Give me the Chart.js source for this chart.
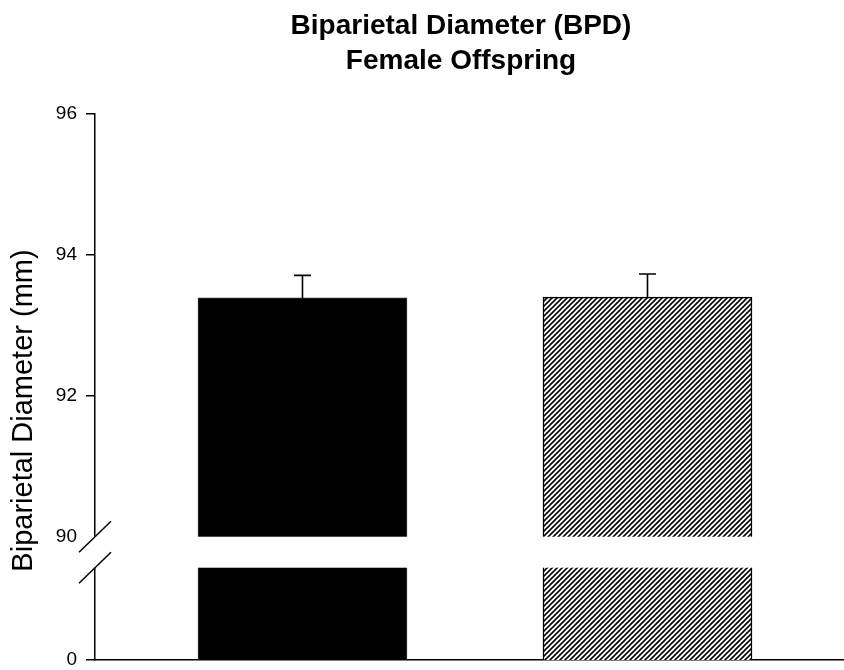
<!DOCTYPE html>
<html>
<head>
<meta charset="utf-8">
<script src="https://cdn.jsdelivr.net/npm/chart.js@4.4.1/dist/chart.umd.min.js"></script>
<style>
  html, body { margin: 0; padding: 0; background: #ffffff; }
  #wrap { width: 844px; height: 670px; }
</style>
</head>
<body>
<div id="wrap"><canvas id="c" width="844" height="670"></canvas></div>
<script>
// ---- data ----
const categories = ['Group 1', 'Group 2'];
const bpdMean = [93.39, 93.40];
const bpdSem = [0.32, 0.33];
const yTickValues = [90, 92, 94, 96];
const yBottomLabel = '0';
const titleLines = ['Biparietal Diameter (BPD)', 'Female Offspring'];
const yTitle = 'Biparietal Diameter (mm)';

// axis range (bottom of axis stands for 0, range 0-90 compressed by an axis break)
const yMax = 96;
const yMin = 88.25;
const breakValue = 90;

// ---- hatch pattern ----
function makeHatch() {
  const s = 5;
  const c = document.createElement('canvas');
  c.width = s; c.height = s;
  const g = c.getContext('2d');
  g.fillStyle = '#ffffff';
  g.fillRect(0, 0, s, s);
  g.strokeStyle = '#000000';
  g.lineWidth = 1.6;
  g.beginPath();
  g.moveTo(0, s); g.lineTo(s, 0);
  g.moveTo(-1, 1); g.lineTo(1, -1);
  g.moveTo(s - 1, s + 1); g.lineTo(s + 1, s - 1);
  g.stroke();
  return g.createPattern(c, 'repeat');
}
const ctx0 = document.getElementById('c').getContext('2d');
const hatch = makeHatch();

const fills = ['#000000', hatch];
const borders = ['#333333', '#000000'];

const barData = categories.map((name, i) => ({ x: i + 1, y: bpdMean[i] }));

// ---- plugins ----
const errorBars = {
  id: 'errorBars',
  afterDatasetsDraw(chart) {
    const ctx = chart.ctx;
    const ys = chart.scales.y;
    const meta = chart.getDatasetMeta(0);
    ctx.save();
    ctx.strokeStyle = '#000000';
    ctx.lineWidth = 1.6;
    meta.data.forEach((bar, i) => {
      const yTop = ys.getPixelForValue(bpdMean[i] + bpdSem[i]);
      const yB = ys.getPixelForValue(bpdMean[i]);
      ctx.beginPath();
      ctx.moveTo(bar.x, yB);
      ctx.lineTo(bar.x, yTop);
      ctx.moveTo(bar.x - 8.5, yTop);
      ctx.lineTo(bar.x + 8.5, yTop);
      ctx.stroke();
    });
    ctx.restore();
  }
};

const axisBreak = {
  id: 'axisBreak',
  afterDraw(chart) {
    const ctx = chart.ctx;
    const ys = chart.scales.y;
    const area = chart.chartArea;
    const gap = 31;
    const yb = ys.getPixelForValue(breakValue);
    ctx.save();
    ctx.fillStyle = '#ffffff';
    ctx.fillRect(area.left - 3, yb, area.right - area.left + 3, gap);
    ctx.strokeStyle = '#000000';
    ctx.lineWidth = 1.5;
    [yb, yb + gap].forEach(y => {
      ctx.beginPath();
      ctx.moveTo(area.left - 16, y + 15.5);
      ctx.lineTo(area.left + 16, y - 15.5);
      ctx.stroke();
    });
    ctx.restore();
  }
};

const texts = {
  id: 'texts',
  afterDraw(chart) {
    const ctx = chart.ctx;
    ctx.save();
    ctx.fillStyle = '#000000';
    ctx.textAlign = 'center';
    ctx.textBaseline = 'alphabetic';
    ctx.font = 'bold 28px "Liberation Sans", Arial, sans-serif';
    ctx.fillText(titleLines[0], 461, 34);
    ctx.fillText(titleLines[1], 461, 69);
    ctx.font = '29px "Liberation Sans", Arial, sans-serif';
    ctx.translate(32, 410.5);
    ctx.rotate(-Math.PI / 2);
    ctx.fillText(yTitle, 0, 0);
    ctx.restore();
  }
};

new Chart(ctx0, {
  type: 'bar',
  data: {
    datasets: [{
      label: 'BPD',
      data: barData,
      backgroundColor: fills,
      borderColor: borders,
      borderWidth: [1, 1.5],
      barThickness: 209,
      clip: 0
    }]
  },
  options: {
    responsive: false,
    animation: false,
    devicePixelRatio: 1,
    layout: { autoPadding: false, padding: { top: 114, bottom: 0, left: 0, right: 0 } },
    plugins: {
      legend: { display: false },
      title: { display: false },
      tooltip: { enabled: false }
    },
    scales: {
      x: {
        type: 'linear',
        offset: false,
        min: 0.3986,
        max: 2.5696,
        ticks: { display: false },
        grid: { display: false, drawTicks: false, tickLength: 0 },
        border: { display: true, color: '#000000', width: 1.5 },
        afterFit(scale) { scale.height = 10; }
      },
      y: {
        min: yMin,
        max: yMax,
        afterBuildTicks(scale) {
          scale.ticks = [{ value: yMin }].concat(yTickValues.map(v => ({ value: v })));
        },
        ticks: {
          color: '#000000',
          padding: 9,
          font: { family: '"Liberation Sans", Arial, sans-serif', size: 19, lineHeight: 1 },
          callback(value) {
            return value === yMin ? yBottomLabel : String(value);
          }
        },
        grid: {
          drawOnChartArea: false,
          drawTicks: true,
          tickLength: 9,
          lineWidth: 1.5,
          color(c) { return c.tick && c.tick.value === breakValue ? 'rgba(0,0,0,0)' : '#000000'; }
        },
        border: { display: true, color: '#000000', width: 1.5 },
        afterFit(scale) {
          scale.width = 95;
          scale.paddingTop = 0;
          scale.paddingBottom = 0;
        }
      }
    }
  },
  plugins: [errorBars, axisBreak, texts]
});
</script>
</body>
</html>
